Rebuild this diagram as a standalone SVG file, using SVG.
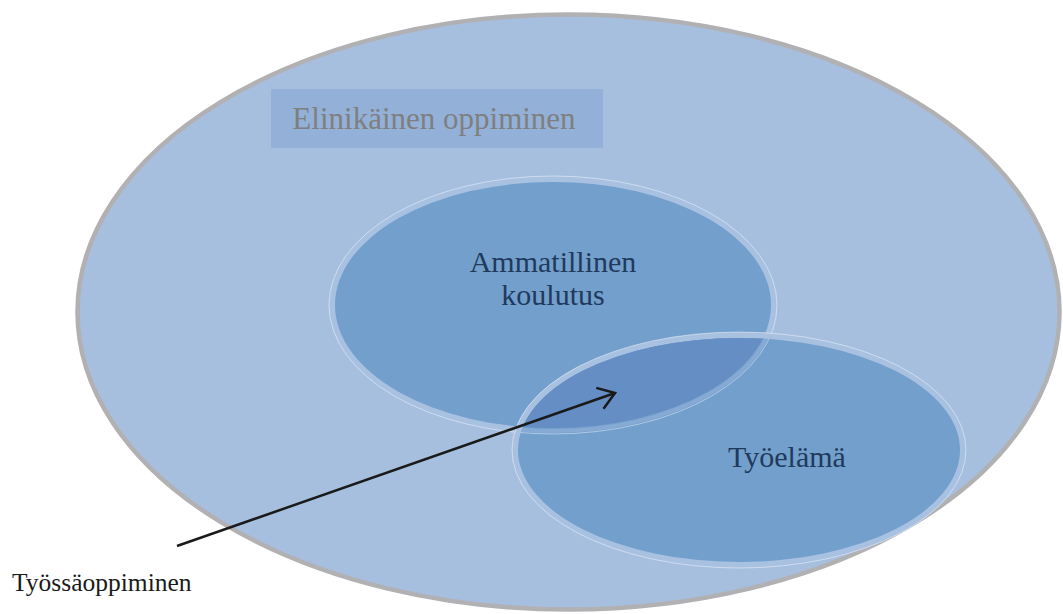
<svg xmlns="http://www.w3.org/2000/svg" width="1063" height="614" viewBox="0 0 1063 614">
  <style>
    .serif { font-family: "Liberation Serif", "Times New Roman", serif; }
    .ring { fill: none; stroke: #a8c1e1; stroke-width: 6; }
    .edge { fill: none; stroke: #ffffff; stroke-opacity: 0.55; stroke-width: 0.8; }
    .body { fill: #739fcd; }
    .lbl { fill: #213a5c; font-size: 30px; text-anchor: middle; }
  </style>
  <defs>
    <clipPath id="clipWork">
      <ellipse cx="739" cy="450" rx="221" ry="112"/>
    </clipPath>
    <marker id="openArrow" markerWidth="24" markerHeight="24" refX="11" refY="7" orient="auto" markerUnits="userSpaceOnUse" overflow="visible">
      <path d="M -5 -4 L 11 7 L -5 18" fill="none" stroke="#1a1a1a" stroke-width="2.5"/>
    </marker>
  </defs>

  <rect width="1063" height="614" fill="#ffffff"/>

  <!-- lifelong learning: outer ellipse and its title -->
  <g id="lifelong">
    <ellipse cx="569.5" cy="313" rx="491" ry="297.5" fill="#b1b1b4"/>
    <ellipse cx="568.5" cy="312" rx="491" ry="297.5" fill="#a7bfdf" stroke="#b1b1b4" stroke-width="4.5"/>
    <rect x="271" y="89" width="332" height="59" fill="#93b1d8"/>
    <text class="serif" x="434" y="129" font-size="31" fill="#7f7f7f" text-anchor="middle">Elinikäinen oppiminen</text>
  </g>

  <!-- vocational education -->
  <g id="vocational">
    <ellipse class="ring" cx="553" cy="305" rx="221" ry="126"/>
    <ellipse class="edge" cx="553" cy="305" rx="224" ry="129"/>
    <ellipse class="body" cx="553" cy="305" rx="218" ry="123"/>
    <text class="serif lbl" x="553" y="272">Ammatillinen</text>
    <text class="serif lbl" x="553" y="305">koulutus</text>
  </g>

  <!-- working life -->
  <g id="working-life">
    <ellipse class="ring" cx="739" cy="450" rx="224" ry="115"/>
    <ellipse class="edge" cx="739" cy="450" rx="227" ry="118"/>
    <ellipse class="body" cx="739" cy="450" rx="221" ry="112"/>
    <text class="serif lbl" x="787" y="467">Työelämä</text>
  </g>

  <!-- overlap of the two -->
  <g id="overlap" clip-path="url(#clipWork)">
    <ellipse cx="553" cy="305" rx="218" ry="123" fill="#658ec4"/>
    <ellipse cx="553" cy="305" rx="221" ry="126" fill="none" stroke="#a8c1e1" stroke-opacity="0.35" stroke-width="4"/>
    <ellipse class="edge" cx="553" cy="305" rx="224" ry="129"/>
  </g>

  <!-- on-the-job learning -->
  <g id="on-the-job">
    <text class="serif" x="12" y="591" font-size="25.5" fill="#1a1a1a">Työssäoppiminen</text>
  </g>

  <g id="connectors">
    <line x1="177" y1="546" x2="615" y2="393" stroke="#1a1a1a" stroke-width="2.5" marker-end="url(#openArrow)"/>
  </g>
</svg>
